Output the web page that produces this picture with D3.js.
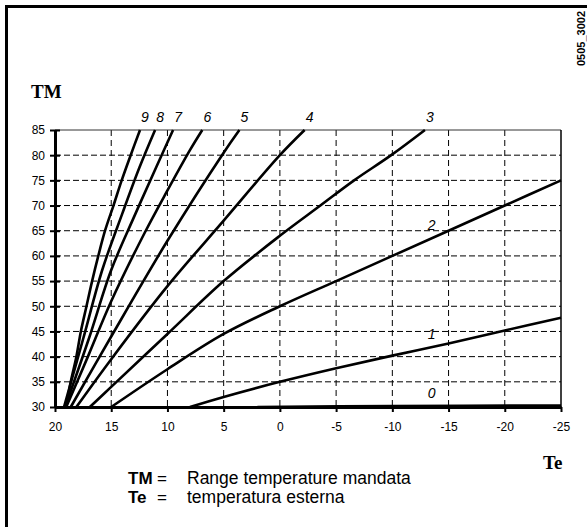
<!DOCTYPE html>
<html>
<head>
<meta charset="utf-8">
<title>TM / Te</title>
<script src="https://cdn.jsdelivr.net/npm/d3@7"></script>
<style>
    body { margin: 0; background: #fff; }
    svg { display: block; font-family: "Liberation Sans", Arial, sans-serif; }
    .tick text { font-size: 12px; fill: #000; }
</style>
</head>
<body>
<svg width="587" height="527"></svg>
<script>
    // values: [Te, TM]
    var curve0 = [[2, 30], [-10, 30.2], [-25, 30.3]];
    var curve1 = [[8, 30], [5, 32], [0, 35], [-5, 37.7], [-10, 40.2], [-15, 42.6], [-20, 45.2], [-25, 47.7]];
    var curve2 = [[15, 30], [10, 37.5], [5, 44.5], [0, 50], [-5, 55], [-10, 60], [-15, 65], [-20, 70], [-25, 75]];
    var curve3 = [[16.9, 30], [15, 34], [10, 44.5], [5, 55], [0, 64], [-3.6, 70], [-6.6, 75], [-9.9, 80], [-12.9, 85]];
    var curve4 = [[18.1, 30], [15, 39.5], [10, 54], [5, 67], [0, 80], [-2.2, 85]];
    var curve5 = [[18.6, 30], [15, 44], [10, 63], [5, 80.5], [3.6, 85]];
    var curve6 = [[19, 30], [17, 40.4], [15, 51], [12, 64.7], [10, 73], [8, 81], [6.9, 85]];
    var curve7 = [[19.1, 30], [17, 43.5], [15, 57.2], [13, 67.6], [11, 77.6], [9.5, 85]];
    var curve8 = [[19.2, 30], [17.5, 43.5], [15.8, 57.2], [14, 68.5], [12.5, 77.5], [11.1, 85]];
    var curve9 = [[19, 30], [18.6, 35], [18.1, 40], [17.7, 45], [17.2, 50], [16.7, 55], [16.15, 60], [15.55, 65], [14.8, 70], [14.07, 75], [13.27, 80], [12.44, 85]];

    var curveNames = ["0", "1", "2", "3", "4", "5", "6", "7", "8", "9"];
    var curves = [curve0, curve1, curve2, curve3, curve4, curve5, curve6, curve7, curve8, curve9];

    var xTicks = [20, 15, 10, 5, 0, -5, -10, -15, -20, -25];
    var yTicks = [30, 35, 40, 45, 50, 55, 60, 65, 70, 75, 80, 85];
    var labelTe = -13.5; // where the labels of the low curves sit

    var legendKeys = ["TM", "Te"];
    var legendTexts = ["Range temperature mandata", "temperatura esterna"];

    var svg = d3.select("svg");

    // frame (only left and top edges are inside the picture)
    svg.append("rect")
        .attr("x", 6.5).attr("y", 6.5)
        .attr("width", 600).attr("height", 540)
        .attr("fill", "none")
        .attr("stroke", "#000")
        .attr("stroke-width", 3);

    var x = d3.scaleLinear().domain([20, -25]).range([55, 561]);
    var y = d3.scaleLinear().domain([30, 85]).range([407, 130]);

    // dashed grid
    svg.append("g").selectAll("line")
        .data(yTicks.slice(1, -1))
        .enter().append("line")
        .attr("x1", x(20)).attr("x2", x(-25))
        .attr("y1", function (d) { return y(d); })
        .attr("y2", function (d) { return y(d); })
        .attr("stroke", "#000")
        .attr("stroke-width", 1)
        .attr("stroke-dasharray", "6,3");

    svg.append("g").selectAll("line")
        .data(xTicks.slice(1, -1))
        .enter().append("line")
        .attr("x1", function (d) { return x(d); })
        .attr("x2", function (d) { return x(d); })
        .attr("y1", y(85)).attr("y2", y(30))
        .attr("stroke", "#000")
        .attr("stroke-width", 1)
        .attr("stroke-dasharray", "6,4");

    // top and right edges of the plot
    svg.append("line")
        .attr("x1", x(20)).attr("x2", x(-25))
        .attr("y1", y(85)).attr("y2", y(85))
        .attr("stroke", "#333").attr("stroke-width", 1);
    svg.append("line")
        .attr("x1", x(-25)).attr("x2", x(-25))
        .attr("y1", y(85)).attr("y2", y(30))
        .attr("stroke", "#000").attr("stroke-width", 1.5);

    // curves
    var line = d3.line()
        .x(function (d) { return x(d[0]); })
        .y(function (d) { return y(d[1]); })
        .curve(d3.curveCatmullRom.alpha(0.5));

    svg.append("g").selectAll("path")
        .data(curves)
        .enter().append("path")
        .attr("d", line)
        .attr("fill", "none")
        .attr("stroke", "#000")
        .attr("stroke-width", 2.6);

    // axes
    var plain = function (d) { return String(d); };

    var yAxis = svg.append("g")
        .attr("transform", "translate(" + x(20) + ",0)")
        .call(d3.axisLeft(y).tickValues(yTicks).tickFormat(plain).tickSize(5).tickSizeOuter(0).tickPadding(5));
    yAxis.selectAll(".tick line").attr("x1", 5).attr("stroke-width", 2);
    yAxis.select(".domain").attr("stroke-width", 3);

    var xAxis = svg.append("g")
        .attr("transform", "translate(0," + y(30) + ")")
        .call(d3.axisBottom(x).tickValues(xTicks).tickFormat(plain).tickSize(5).tickSizeOuter(0).tickPadding(10));
    xAxis.selectAll(".tick line").attr("stroke-width", 2);
    xAxis.select(".domain").attr("stroke-width", 3);
    yAxis.selectAll("text").attr("font-family", null);
    xAxis.selectAll("text").attr("font-family", null);

    // curve numbers
    svg.append("g").selectAll("text")
        .data(curves)
        .enter().append("text")
        .attr("font-size", 14)
        .attr("font-style", "italic")
        .attr("text-anchor", "middle")
        .attr("x", function (d) {
            var last = d[d.length - 1];
            return last[1] >= 85 ? x(last[0]) + 5 : x(labelTe);
        })
        .attr("y", function (d) {
            var last = d[d.length - 1];
            if (last[1] >= 85) return 122;
            var tm = d3.scaleLinear().domain(d.map(function (p) { return p[0]; }).reverse())
                .range(d.map(function (p) { return p[1]; }).reverse())(labelTe);
            return y(tm) - 8;
        })
        .text(function (d, i) { return curveNames[i]; });

    // axis titles
    svg.append("text")
        .attr("x", 31).attr("y", 98)
        .attr("font-family", "Liberation Serif, serif")
        .attr("font-weight", "bold")
        .attr("font-size", 19)
        .text("TM");
    svg.append("text")
        .attr("x", 543).attr("y", 469)
        .attr("font-family", "Liberation Serif, serif")
        .attr("font-weight", "bold")
        .attr("font-size", 19)
        .text("Te");

    // drawing code at the right edge
    svg.append("text")
        .attr("transform", "translate(585,66) rotate(-90)")
        .attr("font-size", 11)
        .attr("font-weight", "bold")
        .text("0505_3002");

    // legend
    var legend = svg.append("g").selectAll("g")
        .data(legendKeys)
        .enter().append("g")
        .attr("transform", function (d, i) { return "translate(0," + (484 + i * 19) + ")"; });
    legend.append("text")
        .attr("x", 128)
        .attr("font-size", 17)
        .attr("font-weight", "bold")
        .text(function (d) { return d; });
    legend.append("text")
        .attr("x", 157)
        .attr("font-size", 17)
        .text("=");
    legend.append("text")
        .attr("x", 187)
        .attr("font-size", 17.5)
        .text(function (d, i) { return legendTexts[i]; });
</script>
</body>
</html>
